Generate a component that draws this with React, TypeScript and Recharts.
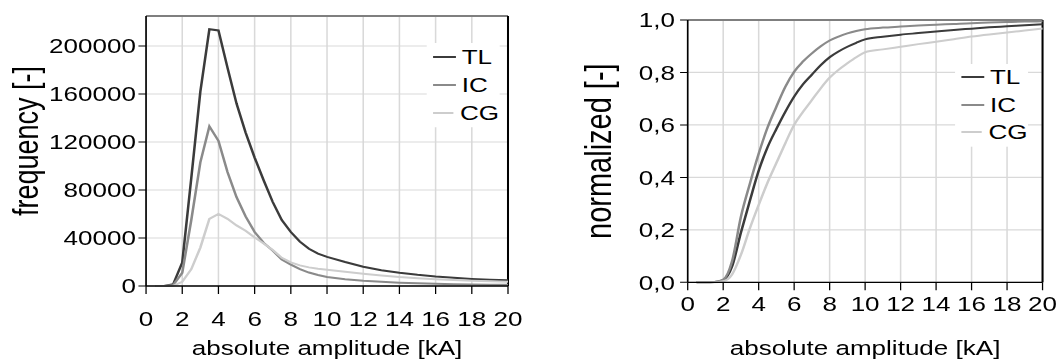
import { LineChart, Line, XAxis, YAxis, CartesianGrid, ReferenceLine, Legend } from 'recharts';

// amplitude bins [kA]
const amplitude = [0.5, 1, 1.5, 2, 2.5, 3, 3.5, 4, 4.5, 5, 5.5, 6, 6.5, 7, 7.5, 8, 8.5, 9, 9.5, 10, 11, 12, 13, 14, 15, 16, 17, 18, 19, 20];

// frequency [-]
const tlFrequency = [0, 0, 1500, 19500, 90000, 162000, 214000, 213000, 182000, 152000, 128000, 107000, 88000, 70000, 55000, 45000, 37000, 31000, 27000, 24300, 20000, 16000, 13200, 11000, 9300, 7900, 6800, 5900, 5200, 4700];
const icFrequency = [0, 0, 800, 11000, 55000, 103000, 133000, 121000, 95000, 74000, 58000, 45000, 36000, 29500, 22000, 17800, 14000, 11200, 9200, 7500, 5700, 4400, 3500, 2800, 2200, 1800, 1500, 1300, 1100, 1000];
const cgFrequency = [0, 0, 200, 3500, 14000, 32000, 56000, 60000, 56000, 50500, 46000, 40500, 35500, 30000, 23500, 19700, 17200, 15500, 14400, 13600, 11800, 10200, 8800, 7500, 6500, 5700, 5000, 4400, 3900, 3500];

// normalized cumulative [-]
const tlNormalized = [0, 0, 0.001, 0.008, 0.06, 0.19, 0.31, 0.425, 0.515, 0.585, 0.65, 0.708, 0.755, 0.792, 0.828, 0.858, 0.88, 0.898, 0.913, 0.926, 0.936, 0.944, 0.95, 0.956, 0.962, 0.967, 0.972, 0.976, 0.98, 0.984];
const icNormalized = [0, 0, 0.001, 0.01, 0.08, 0.25, 0.375, 0.49, 0.59, 0.67, 0.745, 0.803, 0.842, 0.873, 0.9, 0.922, 0.937, 0.949, 0.958, 0.965, 0.971, 0.975, 0.979, 0.982, 0.985, 0.988, 0.99, 0.992, 0.994, 0.995];
const cgNormalized = [0, 0, 0, 0.004, 0.03, 0.105, 0.205, 0.295, 0.38, 0.455, 0.53, 0.6, 0.65, 0.695, 0.74, 0.78, 0.81, 0.835, 0.858, 0.877, 0.888, 0.898, 0.908, 0.917, 0.927, 0.937, 0.945, 0.952, 0.96, 0.968];

const seriesNames = ['TL', 'IC', 'CG'];
const seriesColors = ['#3b3b3b', '#8a8a8a', '#cdcdcd'];

const amplitudeTicks = [0, 2, 4, 6, 8, 10, 12, 14, 16, 18, 20];
const frequencyTicks = [0, 40000, 80000, 120000, 160000, 200000];
const normalizedTicks = [0, 0.2, 0.4, 0.6, 0.8, 1];

const frequencyData = amplitude.map((a, i) => ({ amplitude: a, TL: tlFrequency[i], IC: icFrequency[i], CG: cgFrequency[i] }));
const normalizedData = amplitude.map((a, i) => ({ amplitude: a, TL: tlNormalized[i], IC: icNormalized[i], CG: cgNormalized[i] }));

// the source figure is stretched horizontally, so the whole thing is drawn narrower and scaled
const S = 1.27;
const FONT = '"Liberation Sans", Arial, sans-serif';
const FS = 20.5;
const tickStyle = { fill: '#000', fontSize: FS, fontFamily: FONT };

const xTitle = (text: string) => (props: any) => {
  const vb = props.viewBox;
  return (
    <text x={vb.x + vb.width / 2} y={vb.y + vb.height - 8} textAnchor="middle" fontSize={FS} fontFamily={FONT} fill="#000">
      {text}
    </text>
  );
};

const yTitle = (text: string, dx: number, dy: number, size: number) => (props: any) => {
  const vb = props.viewBox;
  const x = vb.x + dx;
  const y = vb.y + vb.height / 2 + dy;
  return (
    <text x={x} y={y} transform={`rotate(-90 ${x} ${y})`} textAnchor="middle" dominantBaseline="central" fontSize={size} fontFamily={FONT} fill="#000">
      {text}
    </text>
  );
};

const LegendBox = ({ payload, rowHeight }: any) => {
  const items = seriesNames.map(n => (payload || []).find((p: any) => p.value === n)).filter(Boolean);
  return (
    <div style={{ background: '#fff', width: 57, boxSizing: 'border-box', paddingLeft: 4.5, fontFamily: FONT, fontSize: FS, color: '#000' }}>
      {items.map((p: any) => (
        <div key={p.value} style={{ display: 'flex', alignItems: 'center', height: rowHeight }}>
          <span style={{ display: 'inline-block', width: 18, height: 2, background: p.color, marginRight: 5 }} />
          <span style={{ lineHeight: 1 }}>{p.value}</span>
        </div>
      ))}
    </div>
  );
};

const renderLines = (type: 'linear' | 'monotone') =>
  seriesNames.map((name, i) => (
    <Line key={name} type={type} dataKey={name} name={name} stroke={seriesColors[i]} strokeWidth={2} dot={false} activeDot={false} isAnimationActive={false} />
  ));

export default function App() {
  return (
    <div style={{ position: 'absolute', left: 0, top: 0, width: 1057, height: 363, overflow: 'hidden', background: '#fff' }}>
      <div style={{ position: 'relative', width: 1057 / S, height: 363, transform: `scaleX(${S})`, transformOrigin: '0 0' }}>
        <div style={{ position: 'absolute', left: 0, top: 0 }}>
          <LineChart width={420} height={363} data={frequencyData} margin={{ top: 16, right: 20, bottom: 0, left: 0 }}>
            <CartesianGrid stroke="#d9d9d9" strokeWidth={1.2} />
            <XAxis
              type="number"
              dataKey="amplitude"
              domain={[0, 20]}
              ticks={amplitudeTicks}
              interval={0}
              height={77}
              tick={tickStyle}
              tickSize={8}
              tickMargin={17}
              axisLine={{ stroke: '#000', strokeWidth: 1.3 }}
              tickLine={{ stroke: '#000' }}
              label={xTitle('absolute amplitude [kA]')}
            />
            <YAxis
              type="number"
              domain={[0, 225000]}
              ticks={frequencyTicks}
              interval={0}
              width={115}
              tick={tickStyle}
              tickSize={6}
              tickMargin={2}
              tickFormatter={(v: number) => String(v)}
              axisLine={{ stroke: '#000', strokeWidth: 1.3 }}
              tickLine={{ stroke: '#000' }}
              label={yTitle('frequency [-]', 20.5, -10, 27)}
            />
            <ReferenceLine y={225000} stroke="#7f7f7f" strokeWidth={2} />
            <ReferenceLine x={20} stroke="#000" strokeWidth={1.6} />
            {renderLines('linear')}
            <Legend
              layout="vertical"
              align="center"
              verticalAlign="middle"
              wrapperStyle={{ left: 336, top: 43.3, width: 'auto', height: 'auto', right: 'auto', bottom: 'auto' }}
              content={(props: any) => <LegendBox payload={props.payload} rowHeight={28} />}
            />
          </LineChart>
        </div>
        <div style={{ position: 'absolute', left: 420, top: 0 }}>
          <LineChart width={412} height={363} data={normalizedData} margin={{ top: 20, right: 11.1, bottom: 0, left: 0 }}>
            <CartesianGrid stroke="#d9d9d9" strokeWidth={1.2} />
            <XAxis
              type="number"
              dataKey="amplitude"
              domain={[0, 20]}
              ticks={amplitudeTicks}
              interval={0}
              height={80.7}
              tick={tickStyle}
              tickSize={8}
              tickMargin={6}
              axisLine={{ stroke: '#000', strokeWidth: 1.3 }}
              tickLine={{ stroke: '#000' }}
              label={xTitle('absolute amplitude [kA]')}
            />
            <YAxis
              type="number"
              domain={[0, 1]}
              ticks={normalizedTicks}
              interval={0}
              width={121.5}
              tick={tickStyle}
              tickSize={6}
              tickMargin={4}
              tickFormatter={(v: number) => v.toFixed(1).replace('.', ',')}
              axisLine={{ stroke: '#000', strokeWidth: 1.3 }}
              tickLine={{ stroke: '#000' }}
              label={yTitle('normalized [-]', 50.9, 0, 29)}
            />
            <ReferenceLine y={1} stroke="#7f7f7f" strokeWidth={2} />
            <ReferenceLine x={20} stroke="#000" strokeWidth={1.6} />
            {renderLines('monotone')}
            <Legend
              layout="vertical"
              align="center"
              verticalAlign="middle"
              wrapperStyle={{ left: 332, top: 63.5, width: 'auto', height: 'auto', right: 'auto', bottom: 'auto' }}
              content={(props: any) => <LegendBox payload={props.payload} rowHeight={27.5} />}
            />
          </LineChart>
        </div>
      </div>
    </div>
  );
}
